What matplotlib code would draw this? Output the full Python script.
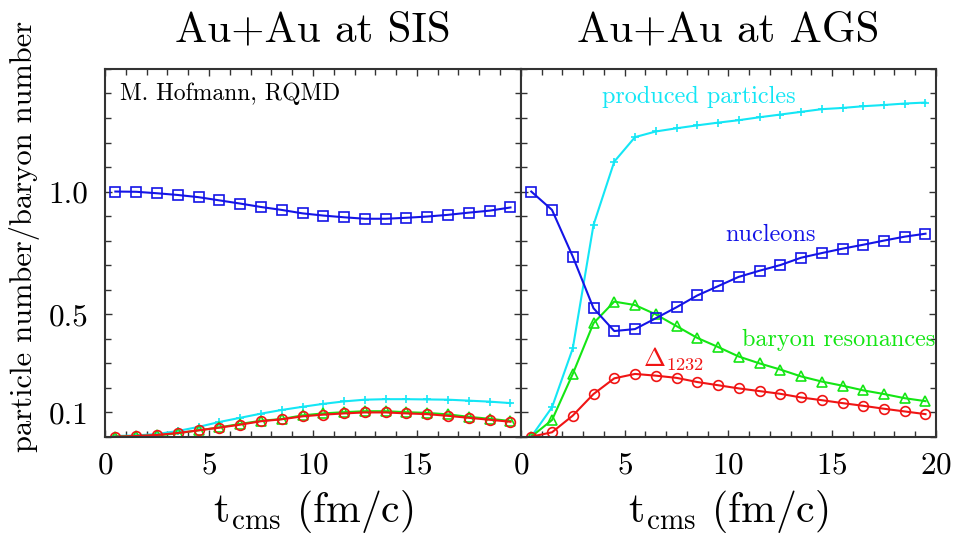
"""
Au+Au at SIS / AGS: particle number per baryon number vs t_cms (RQMD).
"""
import matplotlib
matplotlib.use("Agg")
import matplotlib.pyplot as plt
import numpy as np
from matplotlib.ticker import MultipleLocator, FixedLocator

plt.rcParams["font.family"] = ["cmr10", "DejaVu Serif"]
plt.rcParams["mathtext.fontset"] = "cm"
plt.rcParams["axes.unicode_minus"] = False
plt.rcParams["axes.formatter.use_mathtext"] = True

# time points (fm/c), same for every series
t = [0.5, 1.5, 2.5, 3.5, 4.5, 5.5, 6.5, 7.5, 8.5, 9.5,
     10.5, 11.5, 12.5, 13.5, 14.5, 15.5, 16.5, 17.5, 18.5, 19.5]

# SIS (left panel)
sis_nucleons = [1.000, 0.999, 0.993, 0.986, 0.977, 0.964, 0.951, 0.937, 0.925, 0.911,
                0.902, 0.895, 0.889, 0.889, 0.893, 0.898, 0.905, 0.914, 0.922, 0.935]
sis_produced = [0.003, 0.005, 0.011, 0.023, 0.040, 0.060, 0.077, 0.094, 0.109, 0.122,
                0.134, 0.144, 0.151, 0.153, 0.153, 0.152, 0.151, 0.147, 0.143, 0.137]
sis_resonances = [0.000, 0.003, 0.005, 0.014, 0.026, 0.038, 0.052, 0.065, 0.072, 0.087,
                  0.095, 0.100, 0.104, 0.104, 0.100, 0.097, 0.091, 0.081, 0.073, 0.064]
sis_delta = [0.000, 0.003, 0.007, 0.015, 0.026, 0.037, 0.049, 0.063, 0.071, 0.083,
             0.090, 0.095, 0.099, 0.099, 0.095, 0.092, 0.085, 0.077, 0.069, 0.061]

# AGS (right panel)
ags_nucleons = [1.000, 0.925, 0.735, 0.524, 0.431, 0.439, 0.483, 0.528, 0.576, 0.614,
                0.652, 0.677, 0.700, 0.730, 0.749, 0.767, 0.783, 0.800, 0.816, 0.828]
ags_produced = [0.000, 0.120, 0.360, 0.864, 1.122, 1.222, 1.245, 1.258, 1.270, 1.281,
                1.291, 1.303, 1.314, 1.325, 1.336, 1.341, 1.348, 1.353, 1.359, 1.363]
ags_resonances = [0.000, 0.068, 0.256, 0.463, 0.551, 0.537, 0.499, 0.451, 0.403, 0.366,
                  0.327, 0.299, 0.274, 0.246, 0.225, 0.208, 0.189, 0.174, 0.157, 0.145]
ags_delta = [0.000, 0.018, 0.086, 0.174, 0.238, 0.256, 0.249, 0.240, 0.223, 0.210,
             0.197, 0.186, 0.175, 0.160, 0.149, 0.137, 0.126, 0.114, 0.103, 0.092]

BLUE = "#1414e6"
CYAN = "#14e6f5"
GREEN = "#14e614"
RED = "#f01414"

fig = plt.figure(figsize=(9.54, 5.40), dpi=100)
ax_l = fig.add_axes([0.110, 0.1913, 0.436, 0.681])
ax_r = fig.add_axes([0.546, 0.1913, 0.435, 0.681], sharey=ax_l)

series_style = [
    ("produced", CYAN, "+", 6),
    ("resonances", GREEN, "^", 6.5),
    ("delta", RED, "o", 7),
    ("nucleons", BLUE, "s", 7),
]

for ax, data in ((ax_l, {"nucleons": sis_nucleons, "produced": sis_produced,
                         "resonances": sis_resonances, "delta": sis_delta}),
                 (ax_r, {"nucleons": ags_nucleons, "produced": ags_produced,
                         "resonances": ags_resonances, "delta": ags_delta})):
    for key, color, marker, ms in series_style:
        ax.plot(t, data[key], "-", color=color, lw=1.5, marker=marker, ms=ms,
                mfc="none", mec=color, mew=1.2)
    ax.set_xlim(0, 20)
    ax.set_ylim(0, 1.5)
    ax.xaxis.set_major_locator(MultipleLocator(5))
    ax.xaxis.set_minor_locator(MultipleLocator(1))
    ax.yaxis.set_major_locator(FixedLocator([0.1, 0.5, 1.0]))
    ax.yaxis.set_minor_locator(MultipleLocator(0.1))
    ax.tick_params(which="both", direction="in", top=True, right=True,
                   labelsize=22.5, color="#333333")
    ax.tick_params(which="major", length=5, width=1.0)
    ax.tick_params(which="minor", length=4, width=1.0)
    ax.tick_params(axis="x", which="major", pad=11)
    ax.tick_params(axis="y", which="major", pad=12)
    for sp in ax.spines.values():
        sp.set_linewidth(1.5)
        sp.set_color("#333333")
    ax.set_xlabel(r"$\mathrm{t_{cms}}$ (fm/c)", fontsize=30, labelpad=6)

ax_l.set_xticks([0, 5, 10, 15])
ax_l.set_xticks(np.arange(0, 21, 1), minor=True)
ax_l.set_yticklabels(["0.1", "0.5", "1.0"])
ax_r.tick_params(axis="y", labelleft=False)

ax_l.set_ylabel("particle number/baryon number", fontsize=22)
ax_l.yaxis.set_label_coords(-0.156, 0.544)
ax_l.set_title("Au+Au at SIS", fontsize=31, pad=20)
ax_r.set_title("Au+Au at AGS", fontsize=31, pad=20)

ax_l.text(0.72, 1.372, "M. Hofmann, RQMD", fontsize=17, ha="left", va="baseline")
ax_r.text(3.9, 1.363, "produced particles", color=CYAN, fontsize=17.5,
          ha="left", va="baseline")
ax_r.text(9.83, 0.799, "nucleons", color=BLUE, fontsize=17.5, ha="left", va="baseline")
ax_r.text(10.64, 0.370, "baryon resonances", color=GREEN, fontsize=17.5,
          ha="left", va="baseline")
ax_r.text(5.88, 0.289, r"$\Delta_{1232}$", color=RED, fontsize=19, ha="left", va="baseline")

fig.savefig("out.png", dpi=100)
